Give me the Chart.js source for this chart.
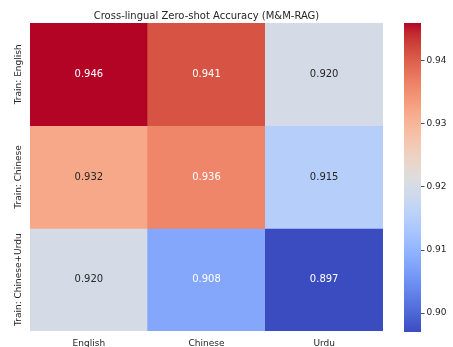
<!DOCTYPE html>
<html>
<head>
<meta charset="utf-8">
<script src="https://cdn.jsdelivr.net/npm/chart.js@4.4.1/dist/chart.umd.min.js"></script>
<style>
  html, body { margin: 0; padding: 0; background: #fff; }
  #wrap { position: relative; width: 453px; height: 347px; }
  #heat { position: absolute; left: 0; top: 0; }
  #cbar { position: absolute; left: 395px; top: 0; }
</style>
</head>
<body>
<div id="wrap">
  <canvas id="heat" width="400" height="347"></canvas>
  <canvas id="cbar" width="58" height="347"></canvas>
</div>
<script>
const TITLE = 'Cross-lingual Zero-shot Accuracy (M&M-RAG)';
const trainSets = ['Train: English', 'Train: Chinese', 'Train: Chinese+Urdu'];
const testLangs = ['English', 'Chinese', 'Urdu'];
const accEnglish = [0.946, 0.941, 0.920];
const accChinese = [0.932, 0.936, 0.915];
const accChineseUrdu = [0.920, 0.908, 0.897];
const cbarTicks = [0.90, 0.91, 0.92, 0.93, 0.94];

const rows = [accEnglish, accChinese, accChineseUrdu];
const vmin = Math.min(...rows.flat());
const vmax = Math.max(...rows.flat());

const FONT = 'DejaVu Sans';
const TEXT = '#262626';

// matplotlib coolwarm, 33 samples
const COOLWARM = [
  [59, 76, 192], [68, 90, 204], [77, 104, 215], [87, 117, 225], [98, 130, 234],
  [108, 142, 241], [119, 154, 247], [130, 165, 251], [141, 176, 254], [152, 185, 255],
  [163, 194, 255], [174, 201, 253], [184, 208, 249], [194, 213, 244], [204, 217, 238],
  [213, 219, 230], [221, 221, 221], [229, 216, 209], [236, 211, 197], [241, 204, 185],
  [245, 196, 173], [247, 187, 160], [247, 177, 148], [247, 166, 135], [244, 154, 123],
  [241, 141, 111], [236, 127, 99], [229, 112, 88], [222, 96, 77], [213, 80, 66],
  [203, 62, 56], [192, 40, 47], [180, 4, 38],
];

const coolwarmRgb = (t) => {
  const p = Math.max(0, Math.min(1, t)) * (COOLWARM.length - 1);
  const i = Math.min(Math.floor(p), COOLWARM.length - 2);
  const f = p - i;
  return COOLWARM[i].map((c, k) => Math.round(c + (COOLWARM[i + 1][k] - c) * f));
};
const colorFor = (v) => `rgb(${coolwarmRgb((v - vmin) / (vmax - vmin)).join(',')})`;

// seaborn annotation rule: dark text on light cells
const textColorFor = (v) => {
  const lin = coolwarmRgb((v - vmin) / (vmax - vmin)).map((c) => {
    c /= 255;
    return c <= 0.03928 ? c / 12.92 : Math.pow((c + 0.055) / 1.055, 2.4);
  });
  const l = 0.2126 * lin[0] + 0.7152 * lin[1] + 0.0722 * lin[2];
  return l > 0.408 ? TEXT : '#ffffff';
};

const heatText = {
  id: 'heatText',
  afterDatasetsDraw(chart) {
    const { ctx, chartArea, scales } = chart;
    ctx.save();
    ctx.textAlign = 'center';
    ctx.textBaseline = 'middle';
    ctx.font = `10px '${FONT}'`;
    chart.data.datasets.forEach((ds, i) => {
      chart.getDatasetMeta(i).data.forEach((bar, j) => {
        const { x, y, base } = bar.getProps(['x', 'y', 'base'], true);
        const v = ds.acc[j];
        ctx.fillStyle = textColorFor(v);
        ctx.fillText(v.toFixed(3), x, (y + base) / 2);
      });
    });

    ctx.font = `9px '${FONT}'`;
    ctx.fillStyle = TEXT;
    trainSets.forEach((label, i) => {
      ctx.save();
      ctx.translate(19, scales.y.getPixelForValue(i + 0.5));
      ctx.rotate(-Math.PI / 2);
      ctx.fillText(label, 0, 0);
      ctx.restore();
    });

    ctx.font = `10px '${FONT}'`;
    ctx.textBaseline = 'alphabetic';
    ctx.fillText(TITLE, (chartArea.left + chartArea.right) / 2, 19);
    ctx.restore();
  },
};

new Chart(document.getElementById('heat'), {
  type: 'bar',
  data: {
    labels: testLangs,
    datasets: rows.map((vals, i) => ({
      label: trainSets[i],
      acc: vals,
      data: vals.map(() => 1),
      backgroundColor: vals.map(colorFor),
      borderWidth: 0,
      barPercentage: 1,
      categoryPercentage: 1,
    })),
  },
  options: {
    responsive: false,
    animation: false,
    layout: { padding: { left: 30, right: 17, top: 23, bottom: 0 } },
    plugins: { legend: { display: false }, tooltip: { enabled: false } },
    scales: {
      x: {
        stacked: true,
        grid: { display: false, drawTicks: false },
        border: { display: false },
        ticks: { color: TEXT, font: { family: FONT, size: 9 }, padding: 7 },
        afterFit: (s) => { s.height = 16; },
      },
      y: { stacked: true, display: false, min: 0, max: 3, reverse: true },
    },
  },
  plugins: [heatText],
});

new Chart(document.getElementById('cbar'), {
  type: 'bar',
  data: {
    labels: [''],
    datasets: [{
      data: [[vmin, vmax]],
      borderWidth: 0,
      barPercentage: 1,
      categoryPercentage: 1,
      backgroundColor: (c) => {
        const { chartArea, ctx, scales } = c.chart;
        if (!chartArea) return colorFor((vmin + vmax) / 2);
        const g = ctx.createLinearGradient(0, scales.y.getPixelForValue(vmin), 0, scales.y.getPixelForValue(vmax));
        COOLWARM.forEach((rgb, i) => g.addColorStop(i / (COOLWARM.length - 1), `rgb(${rgb.join(',')})`));
        return g;
      },
    }],
  },
  options: {
    responsive: false,
    animation: false,
    layout: { padding: { left: 9, right: 0, top: 23, bottom: 15 } },
    plugins: { legend: { display: false }, tooltip: { enabled: false } },
    scales: {
      x: { display: false },
      y: {
        position: 'right',
        min: vmin,
        max: vmax,
        afterBuildTicks: (s) => { s.ticks = cbarTicks.map((v) => ({ value: v })); },
        grid: { drawOnChartArea: false, drawTicks: true, tickLength: 3.5, color: TEXT, lineWidth: 0.8 },
        border: { display: false },
        ticks: { color: TEXT, font: { family: FONT, size: 9 }, padding: 2, callback: (v) => v.toFixed(2) },
        afterFit: (s) => { s.width = 32; },
      },
    },
  },
});
</script>
</body>
</html>
